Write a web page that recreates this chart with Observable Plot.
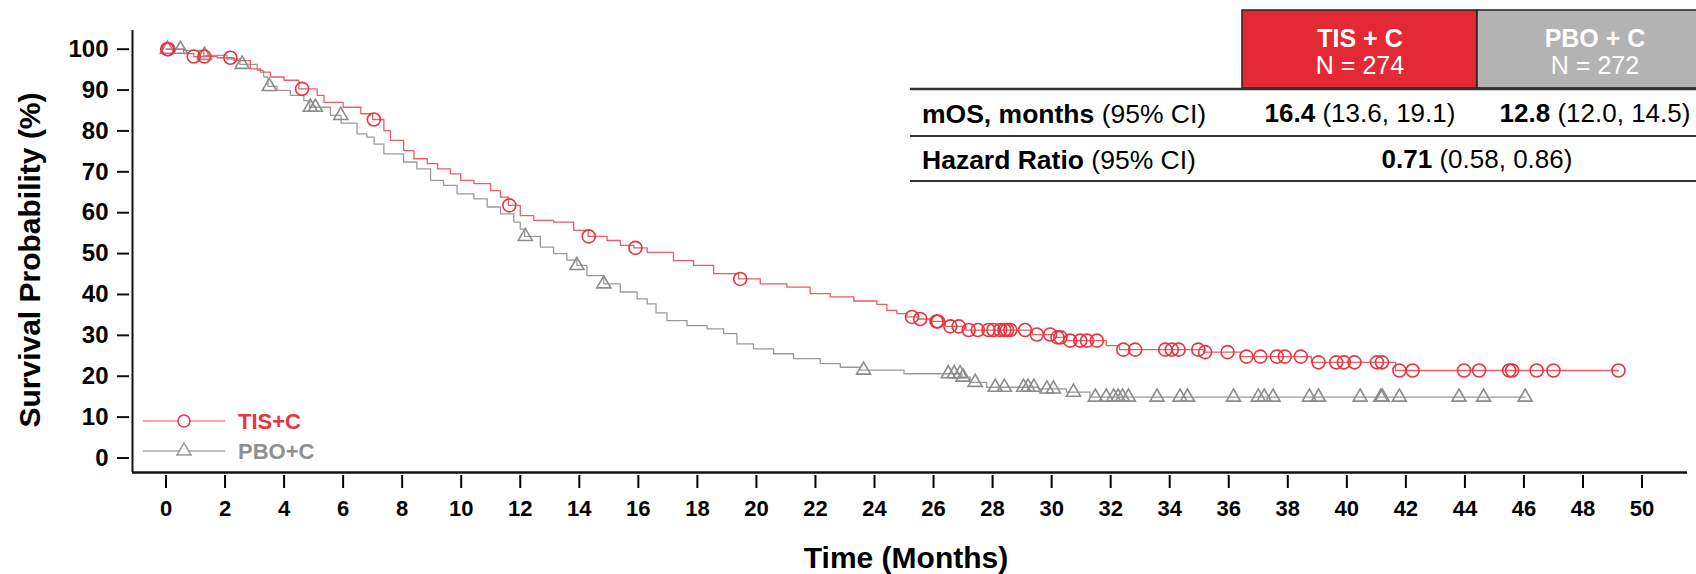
<!DOCTYPE html>
<html>
<head>
<meta charset="utf-8">
<script src="https://cdn.jsdelivr.net/npm/d3@7"></script>
<script src="https://cdn.jsdelivr.net/npm/@observablehq/plot@0.6"></script>
<style>
  html, body { margin: 0; padding: 0; background: #fff; }
  #chart { width: 1696px; height: 574px; }
</style>
</head>
<body>
<div id="chart"></div>
<script>
// ---------------- Data ----------------
const xTicks = [0,2,4,6,8,10,12,14,16,18,20,22,24,26,28,30,32,34,36,38,40,42,44,46,48,50];
const yTicks = [0,10,20,30,40,50,60,70,80,90,100];

// TIS+C Kaplan-Meier step points (months, survival %)
const tisTime = [0,0.6,0.94,1.73,2.3,2.86,3.2,3.54,4.0,4.5,5.12,5.35,6.0,6.6,7.0,7.38,7.6,8.05,8.4,8.85,9.2,9.63,9.98,10.43,11.0,11.33,11.6,12.0,12.46,13.13,13.81,14.3,14.94,15.39,15.85,16.3,17.19,17.87,18.55,19.4,20.13,21.03,21.82,22.5,23.3,24.08,24.42,24.76,25.1,25.5,25.9,26.4,27.1,29.35,30.1,30.5,31.85,32.3,35.15,36.4,38.8,41.65,49.2];
const tisSurv = [100,98.9,98.2,97.9,97.2,95.2,94.4,93.2,92.4,90.3,88.7,87.0,85.8,84.2,82.8,80.1,77.7,75.2,73.2,72.0,70.7,69.5,67.9,67.1,65.4,63.8,61.8,59.3,58.1,57.7,55.7,54.2,53.2,52.0,51.4,50.3,48.3,47.1,45.1,43.8,42.6,41.8,40.2,39.4,38.4,37.6,36.1,35.3,34.5,34.0,33.4,32.2,31.3,30.2,29.5,28.7,27.5,26.5,25.9,24.8,23.4,21.4,21.4];
const tisCensor = [0.04,0.08,0.94,1.3,2.18,4.61,7.04,11.63,14.32,15.9,19.45,25.27,25.55,26.1,26.15,26.57,26.85,27.19,27.5,27.86,28.03,28.26,28.4,28.49,28.6,29.1,29.5,29.95,30.2,30.3,30.63,30.97,31.2,31.53,32.43,32.83,33.85,34.07,34.3,34.97,35.2,35.96,36.6,37.07,37.63,37.9,38.44,39.04,39.64,39.9,40.26,41.02,41.19,41.78,42.23,43.97,44.48,45.5,45.6,46.43,47.0,49.2];

// PBO+C Kaplan-Meier step points
const pboTime = [0,0.6,1.28,2.07,2.5,3.09,3.31,3.45,3.76,4.21,4.67,4.87,5.57,5.93,6.47,6.8,7.05,7.38,8.05,8.5,8.96,9.4,9.86,10.43,10.88,11.33,11.78,12.0,12.15,12.68,13.13,13.58,13.92,14.26,14.83,15.39,15.96,16.3,16.6,16.97,17.65,18.33,18.89,19.34,19.9,20.58,21.26,22.16,22.84,23.5,25.0,26.96,27.24,27.8,29.55,30.5,31.3,46.04];
const pboSurv = [100,99.7,98.5,97.6,96.3,94.8,93.2,90.9,89.9,88.7,87.4,85.8,83.8,81.9,79.3,78.5,76.8,74.4,72.4,70.7,67.9,66.7,64.6,63.4,61.4,59.7,57.7,56.0,54.2,51.6,50.0,48.4,47.1,44.6,42.6,40.6,38.9,37.7,35.5,33.6,32.4,31.6,30.4,27.9,26.7,25.5,24.3,23.1,22.2,21.5,20.6,19.8,18.5,17.3,16.9,16.1,14.9,14.9];
const pboCensor = [0.05,0.49,1.3,2.58,3.5,4.89,5.06,5.92,12.17,13.92,14.83,23.63,26.5,26.7,26.9,27.0,27.41,28.09,28.4,29.05,29.2,29.4,29.84,30.06,30.74,31.48,31.85,32.1,32.25,32.4,32.6,33.57,34.35,34.6,36.16,37.0,37.2,37.5,38.73,39.04,40.45,41.15,41.2,41.78,43.8,44.63,46.04];

const seriesNames = ["TIS+C", "PBO+C"];
const tableHeaders = ["TIS + C", "PBO + C"];
const tableN = ["N = 274", "N = 272"];
const rowLabelBold = ["mOS, months", "Hazard Ratio"];
const rowLabelRest = [" (95% CI)", " (95% CI)"];
const mosBold = ["16.4", "12.8"];
const mosCI = [" (13.6, 19.1)", " (12.0, 14.5)"];
const hrBold = "0.71";
const hrCI = " (0.58, 0.86)";

// ---------------- Helpers ----------------
function stepAt(times, survs, t) {
  let v = survs[0];
  for (let i = 0; i < times.length; i++) { if (times[i] <= t) v = survs[i]; else break; }
  return v;
}
const tisLine = tisTime.map((t, i) => ({t, s: tisSurv[i]}));
const pboLine = pboTime.map((t, i) => ({t, s: pboSurv[i]}));
const tisDots = tisCensor.map(t => ({t, s: stepAt(tisTime, tisSurv, t)}));
const pboDots = pboCensor.map(t => ({t, s: stepAt(pboTime, pboSurv, t)}));

const RED = "#e8343f", RED_LINE = "#ef5a64", GRAY = "#8c8c8c", GRAY_LINE = "#9a9a9a";
const FONT = "'Liberation Sans', Arial, Helvetica, sans-serif";
const xDom = [-1.135, 51.54], yDom = [-3.55, 104.57];

const plot = Plot.plot({
  width: 1696, height: 574,
  marginLeft: 132, marginRight: 9, marginTop: 30, marginBottom: 102,
  style: {fontFamily: FONT, background: "#fff", overflow: "visible"},
  x: {domain: xDom},
  y: {domain: yDom},
  marks: [
    Plot.line(pboLine, {x: "t", y: "s", curve: "step-after", stroke: GRAY_LINE, strokeWidth: 1.3}),
    Plot.line(tisLine, {x: "t", y: "s", curve: "step-after", stroke: RED_LINE, strokeWidth: 1.3}),
    Plot.dot(pboDots, {x: "t", y: "s", symbol: "triangle", r: 5.2, stroke: GRAY, fill: "none", strokeWidth: 1.6}),
    Plot.dot(tisDots, {x: "t", y: "s", symbol: "circle", r: 6.5, stroke: RED, fill: "none", strokeWidth: 1.6}),
    Plot.ruleX([xDom[0]], {stroke: "#111", strokeWidth: 2}),
    Plot.ruleY([yDom[0]], {stroke: "#111", strokeWidth: 2.5}),
    Plot.axisY({ticks: yTicks, tickSize: 12, tickPadding: 9, dx: -3, label: null, fontSize: 24, fontWeight: "bold", stroke: "#111", strokeWidth: 2, color: "#000"}),
    Plot.axisX({ticks: xTicks, tickSize: 13, tickPadding: 12, dy: 3, label: null, fontSize: 22, fontWeight: "bold", strokeWidth: 2, color: "#000"})
  ]
});
document.getElementById("chart").appendChild(plot);

// ---------------- Titles, legend, table ----------------
const svg = d3.select(plot);
svg.append("text").attr("transform", "translate(40,260) rotate(-90)")
  .attr("text-anchor", "middle").attr("font-family", FONT).attr("font-size", 30).attr("font-weight", "bold").attr("fill", "#000")
  .text("Survival Probability (%)");
svg.append("text").attr("x", 906).attr("y", 568)
  .attr("text-anchor", "middle").attr("font-family", FONT).attr("font-size", 30).attr("font-weight", "bold").attr("fill", "#000")
  .text("Time (Months)");

// legend
const leg = svg.append("g");
const legY = [421, 451];
const legColors = [RED, "#8f8f8f"], legLine = ["#f08890", "#a8a8a8"];
seriesNames.forEach((name, i) => {
  leg.append("line").attr("x1", 143).attr("x2", 225).attr("y1", legY[i]).attr("y2", legY[i]).attr("stroke", legLine[i]).attr("stroke-width", 1.6);
  if (i === 0) leg.append("circle").attr("cx", 184).attr("cy", legY[i]).attr("r", 6).attr("fill", "#fff").attr("stroke", RED).attr("stroke-width", 1.5);
  else leg.append("path").attr("d", d3.symbol(d3.symbolTriangle, Math.PI * 5.2 * 5.2)()).attr("transform", `translate(184,${legY[i]})`).attr("fill", "#fff").attr("stroke", "#999").attr("stroke-width", 1.5);
  leg.append("text").attr("x", 238).attr("y", legY[i]).attr("dy", "0.36em").attr("text-anchor", "start").attr("font-family", FONT).attr("font-size", 22).attr("font-weight", "bold").attr("fill", legColors[i]).text(name);
});

// table
const tb = svg.append("g").attr("font-family", FONT);
const colX = [1242, 1477, 1720];
const boxFill = ["#e32934", "#b3b3b3"];
[0, 1].forEach(i => {
  tb.append("rect").attr("x", colX[i]).attr("y", 10).attr("width", colX[i + 1] - colX[i]).attr("height", 78)
    .attr("fill", boxFill[i]).attr("stroke", "#222").attr("stroke-width", 1.5);
  const cx = i === 0 ? 1360 : 1595;
  tb.append("text").attr("x", cx).attr("y", 38).attr("dy", "0.36em").attr("text-anchor", "middle").attr("fill", "#fff").attr("font-size", 25).attr("font-weight", "bold").text(tableHeaders[i]);
  tb.append("text").attr("x", cx).attr("y", 65).attr("dy", "0.36em").attr("text-anchor", "middle").attr("fill", "#fff").attr("font-size", 25).text(tableN[i]);
});
[89, 136, 181].forEach((y, i) => tb.append("line").attr("x1", 910).attr("x2", 1696).attr("y1", y).attr("y2", y).attr("stroke", "#333").attr("stroke-width", i === 0 ? 2.5 : 2));
const rowY = [113, 159];
rowY.forEach((y, i) => {
  const t = tb.append("text").attr("x", 922).attr("y", y).attr("dy", "0.36em").attr("text-anchor", "start").attr("font-size", 26.5).attr("fill", "#000");
  t.append("tspan").attr("font-weight", "bold").text(rowLabelBold[i]);
  t.append("tspan").text(rowLabelRest[i]);
});
[1360, 1595].forEach((cx, i) => {
  const t = tb.append("text").attr("x", cx).attr("y", rowY[0]).attr("dy", "0.36em").attr("text-anchor", "middle").attr("font-size", 26).attr("fill", "#000");
  t.append("tspan").attr("font-weight", "bold").text(mosBold[i]);
  t.append("tspan").text(mosCI[i]);
});
const hr = tb.append("text").attr("x", 1477).attr("y", rowY[1]).attr("dy", "0.36em").attr("text-anchor", "middle").attr("font-size", 26).attr("fill", "#000");
hr.append("tspan").attr("font-weight", "bold").text(hrBold);
hr.append("tspan").text(hrCI);
</script>
</body>
</html>
